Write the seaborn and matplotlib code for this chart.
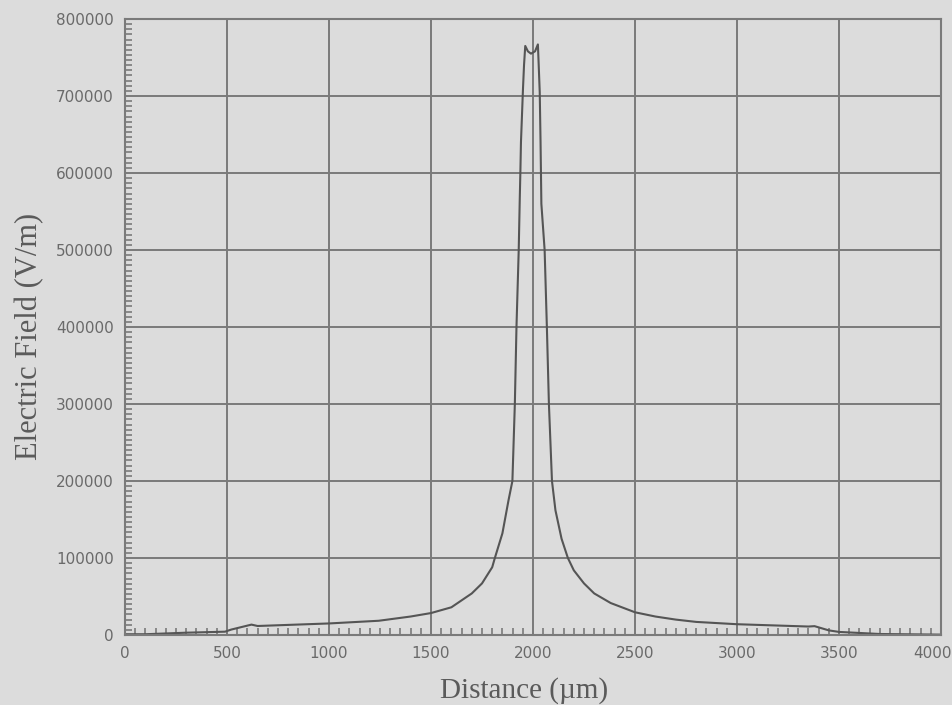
import matplotlib
matplotlib.use("Agg")
import matplotlib.pyplot as plt
from matplotlib.ticker import MultipleLocator, FixedLocator
from matplotlib.transforms import ScaledTranslation
import seaborn as sns
import pandas as pd

# Electric field profile along the device (distance in micrometres, field in V/m)
distance_um = [0, 100, 300, 490, 520, 620, 650, 1000, 1244, 1400,
               1500, 1600, 1700, 1750, 1800, 1813, 1850, 1880, 1899, 1911,
               1919, 1930, 1935, 1938, 1941, 1951, 1956, 1962, 1975, 1990,
               2010, 2024, 2028, 2033, 2037, 2041, 2057, 2068, 2078, 2093,
               2110, 2140, 2171, 2200, 2250, 2300, 2381, 2500, 2600, 2700,
               2800, 3000, 3350, 3380, 3450, 3500, 3700, 4000]
field_v_per_m = [1000, 1000, 3000, 4300, 7000, 13500, 11700, 15000, 18500, 24000,
                 28500, 36000, 54000, 67000, 88000, 100000, 132000, 175000, 200000, 300000,
                 400000, 500000, 565000, 600000, 640000, 710000, 740000, 765000, 758000, 755000,
                 758000, 767000, 740000, 705000, 640000, 560000, 500000, 400000, 300000, 200000,
                 162000, 125000, 100000, 84000, 67000, 54000, 41500, 29500, 24000, 20000,
                 17000, 14000, 11000, 11500, 6000, 4000, 1300, 500]

x_ticks = [0, 500, 1000, 1500, 2000, 2500, 3000, 3500, 4000]
y_ticks = [0, 100000, 200000, 300000, 400000, 500000, 600000, 700000, 800000]

df = pd.DataFrame({"Distance": distance_um, "Field": field_v_per_m})

sns.set_theme(style="white")
bg = "#dcdcdc"
grid_c = "#7a7a7a"
text_c = "#6a6a6a"

fig = plt.figure(figsize=(9.52, 7.05), dpi=100, facecolor=bg)
ax = fig.add_axes([125 / 952, 1 - 635 / 705, 816 / 952, 616 / 705])
ax.set_facecolor(bg)

sns.lineplot(data=df, x="Distance", y="Field", ax=ax, color="#555555",
             linewidth=1.5, estimator=None, sort=False)

ax.set_xlim(0, 4000)
ax.set_ylim(0, 800000)
ax.xaxis.set_major_locator(FixedLocator(x_ticks))
ax.yaxis.set_major_locator(FixedLocator(y_ticks))
ax.xaxis.set_minor_locator(MultipleLocator(50))
ax.yaxis.set_minor_locator(MultipleLocator(100000 / 15))
ax.set_xticklabels([str(v) for v in x_ticks])
ax.set_yticklabels([str(v) for v in y_ticks])

ax.grid(True, which="major", color=grid_c, linewidth=1.4)
ax.set_axisbelow(True)
for s in ax.spines.values():
    s.set_color(grid_c)
    s.set_linewidth(1.5)

tick_font = ["Liberation Sans Narrow", "DejaVu Sans"]
ax.tick_params(axis="both", which="both", bottom=True, left=True,
               top=False, right=False)
ax.tick_params(axis="both", which="major", length=0, pad=8,
               labelsize=11, labelcolor=text_c)
ax.tick_params(axis="both", which="minor", direction="in", length=5,
               width=1.1, color="#727272")
for lab in ax.get_xticklabels() + ax.get_yticklabels():
    lab.set_family(tick_font)
# pull the last distance label back inside the figure edge
last = ax.get_xticklabels()[-1]
last.set_transform(last.get_transform() + ScaledTranslation(-9 / 100, 0, fig.dpi_scale_trans))

label_font = ["Liberation Serif", "DejaVu Serif"]
ax.set_xlabel("Distance (\u00b5m)", fontsize=21, color="#5a5a5a",
              family=label_font)
ax.set_ylabel("Electric Field (V/m)", fontsize=22, color="#5a5a5a",
              family=label_font)
ax.xaxis.set_label_coords(0.489, -0.068)
ax.yaxis.set_label_coords(-0.099, 0.485)

fig.savefig("out.png", dpi=100, facecolor=bg)
